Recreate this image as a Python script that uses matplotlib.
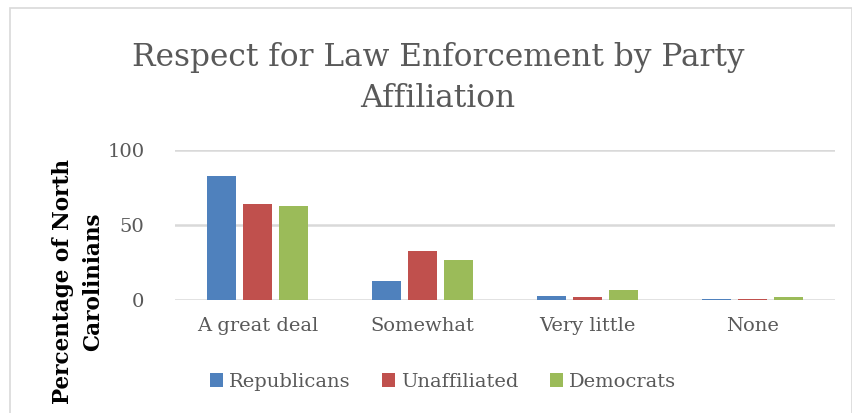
import matplotlib.pyplot as plt
import numpy as np
from matplotlib.patches import Rectangle

# data
categories = ["A great deal", "Somewhat", "Very little", "None"]
republicans = [83, 13, 3, 0.5]
unaffiliated = [64, 33, 2, 1]
democrats = [63, 27, 7, 2]
series_names = ["Republicans", "Unaffiliated", "Democrats"]
colors = ["#4F81BD", "#C0504D", "#9BBB59"]

plt.rcParams['font.family'] = ['DejaVu Serif']
gray = "#595959"

fig = plt.figure(figsize=(8.53, 4.13), dpi=100)
ax = fig.add_axes([175 / 853, 1 - 300 / 413, 660 / 853, 150 / 413])

x = np.arange(len(categories))
w = 0.176
step = 0.221
for i, (vals, name, c) in enumerate(zip([republicans, unaffiliated, democrats], series_names, colors)):
    ax.bar(x + (i - 1) * step, vals, w, color=c, label=name, zorder=3)

ax.set_xlim(-0.5, 3.5)
ax.set_ylim(0, 100)
ax.set_yticks([0, 50, 100])
ax.set_xticks(x)
ax.set_xticklabels(categories)
ax.tick_params(axis="both", length=0, labelsize=14, labelcolor=gray)
ax.tick_params(axis="y", pad=22)
ax.tick_params(axis="x", pad=12)
ax.grid(axis="y", color="#D9D9D9", linewidth=1.8, zorder=0)
for s in ax.spines.values():
    s.set_visible(False)

ax.set_ylabel("Percentage of North\nCarolinians", fontsize=15.5, fontweight="heavy",
              color="black", linespacing=1.45)
ax.yaxis.set_label_coords(-0.108, 0.12)

fig.suptitle("Respect for Law Enforcement by Party\nAffiliation", x=438 / 853, y=1 - 42 / 413,
             fontsize=22.5, color=gray, va="top", linespacing=1.4)

ax.legend(loc="center", bbox_to_anchor=(443 / 853, 1 - 382 / 413), bbox_transform=fig.transFigure,
          ncol=3, frameon=False, fontsize=14, labelcolor=gray, handlelength=0.7, handleheight=0.7,
          handletextpad=0.3, columnspacing=1.6)

# chart border
fig.patches.append(Rectangle((10 / 853, -0.05), 842 / 853, 1.03, transform=fig.transFigure,
                             fill=False, edgecolor="#D9D9D9", linewidth=1.2))

fig.savefig("out.png", dpi=100)
